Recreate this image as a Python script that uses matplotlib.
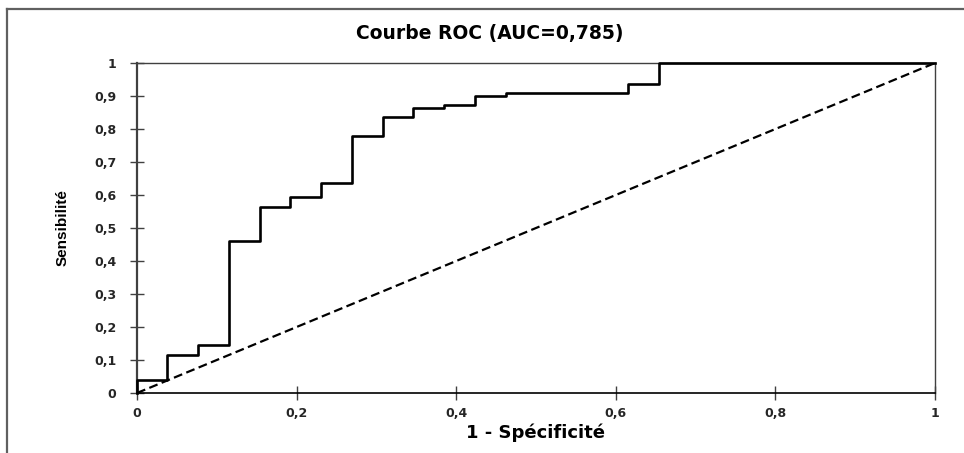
import numpy as np
from matplotlib import pyplot as plt
from matplotlib.lines import Line2D

# ROC points (26 negatives -> steps of 1/26 on x)
fpr = [0, 0, 0.038, 0.077, 0.115, 0.154, 0.192, 0.231, 0.269, 0.308,
       0.346, 0.385, 0.423, 0.462, 0.615, 0.654, 1.0]
tpr = [0, 0.04, 0.115, 0.145, 0.46, 0.565, 0.595, 0.635, 0.78, 0.835,
       0.865, 0.872, 0.90, 0.91, 0.935, 1.0, 1.0]

xticks_vals = [0, 0.2, 0.4, 0.6, 0.8, 1]
xticks_labels = ["0", "0,2", "0,4", "0,6", "0,8", "1"]
yticks_vals = [0, 0.1, 0.2, 0.3, 0.4, 0.5, 0.6, 0.7, 0.8, 0.9, 1]
yticks_labels = ["0", "0,1", "0,2", "0,3", "0,4", "0,5", "0,6", "0,7", "0,8", "0,9", "1"]

W, H = 964, 453
fig = plt.figure(figsize=(W / 100, H / 100), dpi=100)
ax = fig.add_axes([137 / W, 1 - 393 / H, (935 - 137) / W, (393 - 63) / H])

ax.step(fpr, tpr, where="post", color="black", lw=1.9, clip_on=False, zorder=3)
ax.plot([0, 1], [0, 1], color="black", lw=1.6, linestyle=(0, (4, 2)), zorder=2)

ax.set_xlim(0, 1)
ax.set_ylim(0, 1)
ax.set_xticks(xticks_vals)
ax.set_xticklabels(xticks_labels)
ax.set_yticks(yticks_vals)
ax.set_yticklabels(yticks_labels)
ax.tick_params(direction="inout", length=10, width=1, color="#404040",
               labelsize=9, labelcolor="#262626")
ax.tick_params(axis="y", pad=10)
ax.tick_params(axis="x", pad=5)
for lab in ax.get_xticklabels() + ax.get_yticklabels():
    lab.set_fontweight("bold")

for side in ["top", "right"]:
    ax.spines[side].set_color("#404040")
    ax.spines[side].set_linewidth(1.0)
ax.spines["left"].set_color("#404040")
ax.spines["left"].set_linewidth(1.6)
ax.spines["bottom"].set_color("black")
ax.spines["bottom"].set_linewidth(1.2)

fig.text(536 / W, 1 - 433 / H, "1 - Spécificité", fontsize=13,
         fontweight="bold", ha="center", va="center")
fig.text(63 / W, 1 - 228 / H, "Sensibilité", rotation=90, fontsize=11,
         fontweight="bold", family="Liberation Sans",
         ha="center", va="center")
fig.text(490 / W, 1 - 33 / H, "Courbe ROC (AUC=0,785)", fontsize=13.5,
         fontweight="bold", ha="center", va="center")

# outer chart frame (gray, open at right and bottom)
fig.add_artist(Line2D([7 / W, 7 / W], [0, 1 - 9 / H], color="#606060", lw=1.6))
fig.add_artist(Line2D([7 / W, 1], [1 - 9 / H, 1 - 9 / H], color="#606060", lw=1.6))

fig.savefig("out.png", dpi=100, facecolor="white")
